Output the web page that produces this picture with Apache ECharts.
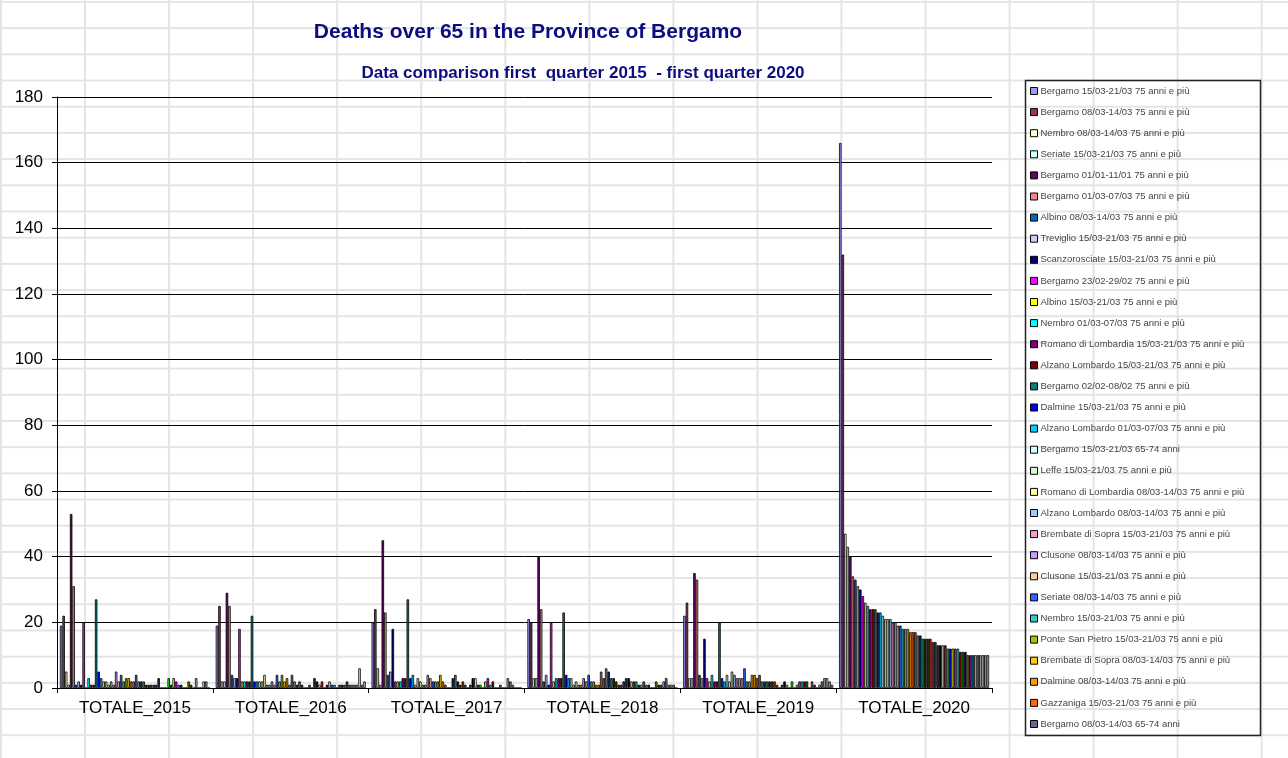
<!DOCTYPE html>
<html>
<head>
<meta charset="utf-8">
<title>Deaths over 65 in the Province of Bergamo</title>
<script src="https://cdn.jsdelivr.net/npm/echarts@6/dist/echarts.min.js"></script>
<style>
  html, body { margin: 0; padding: 0; }
  body {
    width: 1288px; height: 758px; overflow: hidden;
    background-color: #ffffff;
    /* spreadsheet cell grid behind the chart */
    background-image:
      linear-gradient(to right, #e4e4e4 2px, transparent 2px),
      linear-gradient(to bottom, #e4e4e4 2px, transparent 2px);
    background-size: 84.05px 26.2px;
    background-position: 0px 1px;
  }
  #chart { width: 1288px; height: 758px; }
</style>
</head>
<body>
<div id="chart"></div>
<script>
// Category labels on the x axis
const categories = ['TOTALE_2015', 'TOTALE_2016', 'TOTALE_2017', 'TOTALE_2018', 'TOTALE_2019', 'TOTALE_2020'];

// Series names (municipality, week, age band); the legend lists the first 31
const seriesNames = [
  'Bergamo 15/03-21/03 75 anni e più',
  'Bergamo 08/03-14/03 75 anni e più',
  'Nembro 08/03-14/03 75 anni e più',
  'Seriate 15/03-21/03 75 anni e più',
  'Bergamo 01/01-11/01 75 anni e più',
  'Bergamo 01/03-07/03 75 anni e più',
  'Albino 08/03-14/03 75 anni e più',
  'Treviglio 15/03-21/03 75 anni e più',
  'Scanzorosciate 15/03-21/03 75 anni e più',
  'Bergamo 23/02-29/02 75 anni e più',
  'Albino 15/03-21/03 75 anni e più',
  'Nembro 01/03-07/03 75 anni e più',
  'Romano di Lombardia 15/03-21/03 75 anni e più',
  'Alzano Lombardo 15/03-21/03 75 anni e più',
  'Bergamo 02/02-08/02 75 anni e più',
  'Dalmine 15/03-21/03 75 anni e più',
  'Alzano Lombardo 01/03-07/03 75 anni e più',
  'Bergamo 15/03-21/03 65-74 anni',
  'Leffe 15/03-21/03 75 anni e più',
  'Romano di Lombardia 08/03-14/03 75 anni e più',
  'Alzano Lombardo 08/03-14/03 75 anni e più',
  'Brembate di Sopra 15/03-21/03 75 anni e più',
  'Clusone 08/03-14/03 75 anni e più',
  'Clusone 15/03-21/03 75 anni e più',
  'Seriate 08/03-14/03 75 anni e più',
  'Nembro 15/03-21/03 75 anni e più',
  'Ponte San Pietro 15/03-21/03 75 anni e più',
  'Brembate di Sopra 08/03-14/03 75 anni e più',
  'Dalmine 08/03-14/03 75 anni e più',
  'Gazzaniga 15/03-21/03 75 anni e più',
  'Bergamo 08/03-14/03 65-74 anni'
];
const SERIES_COUNT = 60;

// Deaths per series, one array per year (series order as above)
const deaths2015 = [19,22,5,1,53,31,1,2,1,20, 0,3,1,1,27,5,3,2,2,1, 2,1,5,2,4,2,3,3,2,2, 4,2,2,2,1,1,1,1,1,3, 0,0,0,3,1,3,2,1,1,0, 0,2,1,0,3,0,0,2,2,0];
const deaths2016 = [19,25,2,2,29,25,4,3,3,18, 2,2,2,2,22,2,2,2,2,4, 1,1,2,1,4,2,4,2,3,1, 4,2,1,2,1,0,0,1,0,3, 2,1,2,0,1,2,1,1,0,1, 1,1,2,1,1,1,1,6,1,2];
const deaths2017 = [20,24,6,1,45,23,4,5,18,2, 2,2,3,3,27,3,4,1,3,2, 1,1,4,3,2,2,2,4,2,1, 0,0,3,4,2,1,2,1,0,1, 3,3,1,1,0,2,3,1,2,0, 0,1,0,0,3,2,1,0,0,0];
const deaths2018 = [21,20,3,3,40,24,2,4,1,20, 2,3,3,3,23,4,3,3,1,2, 1,1,3,2,4,2,2,1,1,5, 3,6,5,3,3,2,1,1,2,3, 3,2,2,2,1,1,2,1,1,0, 0,2,1,1,2,3,1,1,1,0];
const deaths2019 = [22,26,3,3,35,33,4,3,15,3, 2,4,2,2,20,3,2,4,2,5, 4,3,3,3,6,2,2,4,4,3, 4,2,2,2,2,2,2,1,0,1, 2,1,0,2,0,1,2,2,2,2, 0,2,1,0,1,2,3,3,2,1];
const deaths2020 = [166,132,47,43,40,34,33,31,30,28, 26,25,24,24,24,23,23,22,21,21, 21,20,20,19,19,18,18,18,17,17, 17,16,16,15,15,15,15,14,14,13, 13,13,13,12,12,12,12,12,11,11, 11,10,10,10,10,10,10,10,10,10];

// Y axis range and step
const yMin = 0, yMax = 180, yStep = 20;

const years = [deaths2015, deaths2016, deaths2017, deaths2018, deaths2019, deaths2020];

// Classic spreadsheet series palette
const palette = [
  '#9999FF','#993366','#FFFFCC','#CCFFFF','#660066','#FF8080','#0066CC','#CCCCFF',
  '#000080','#FF00FF','#FFFF00','#00FFFF','#800080','#800000','#008080','#0000FF',
  '#00CCFF','#CCFFFF','#CCFFCC','#FFFF99','#99CCFF','#FF99CC','#CC99FF','#FFCC99',
  '#3366FF','#33CCCC','#99CC00','#FFCC00','#FF9900','#FF6600','#666699','#969696',
  '#003366','#339966','#003300','#333300','#993300','#993366','#333399','#333333',
  '#000000','#FFFFFF','#FF0000','#00FF00','#0000FF','#FFFF00','#FF00FF','#00FFFF',
  '#800000','#008000','#000080','#808000','#800080','#008080','#C0C0C0','#808080',
  '#B8B8C8','#E6E6E6','#A6A6A6','#D8C4C8'
];

const FONT = '"Liberation Sans", Arial, sans-serif';

const series = [];
for (let i = 0; i < SERIES_COUNT; i++) {
  series.push({
    type: 'bar',
    name: i < seriesNames.length ? seriesNames[i] : 'Serie ' + (i + 1),
    data: years.map(function (y) { return y[i]; }),
    barGap: '0%',
    barCategoryGap: '3.7%',
    itemStyle: { color: palette[i], borderColor: '#000', borderWidth: 0.8 },
    silent: true
  });
}

const chart = echarts.init(document.getElementById('chart'), null, { renderer: 'canvas' });
chart.setOption({
  animation: false,
  backgroundColor: 'transparent',
  textStyle: { fontFamily: FONT },
  grid: { left: 57, right: 296, top: 97, bottom: 70, containLabel: false },
  xAxis: {
    type: 'category',
    data: categories,
    axisLine: { show: true, lineStyle: { color: '#000', width: 1 } },
    axisTick: { show: true, alignWithLabel: false, length: 5, lineStyle: { color: '#000' } },
    axisLabel: { color: '#000', fontSize: 17, fontFamily: FONT, margin: 12 },
    splitLine: { show: false }
  },
  yAxis: {
    type: 'value',
    min: yMin, max: yMax, interval: yStep,
    axisLine: { show: true, lineStyle: { color: '#000', width: 1 } },
    axisTick: { show: true, length: 5, lineStyle: { color: '#000' } },
    axisLabel: { color: '#000', fontSize: 17, fontFamily: FONT, margin: 14 },
    splitLine: { show: true, lineStyle: { color: '#000', width: 1 } }
  },
  legend: {
    data: seriesNames,
    orient: 'vertical',
    left: 1030,
    top: 85,
    padding: 0,
    icon: 'rect',
    itemWidth: 7,
    itemHeight: 7,
    itemGap: 9.1,
    selectedMode: false,
    itemStyle: { borderColor: '#000', borderWidth: 1 },
    textStyle: { color: '#444', fontSize: 9.5, lineHeight: 12, fontFamily: FONT, padding: [0, 0, 0, -2] }
  },
  graphic: [
    {
      type: 'rect',
      shape: { x: 1025.5, y: 80.5, width: 235, height: 655 },
      style: { fill: 'rgba(255,255,255,0)', stroke: '#222', lineWidth: 1.5 },
      silent: true, z: 100
    },
    {
      type: 'text',
      style: {
        text: 'Deaths over 65 in the Province of Bergamo',
        x: 528, y: 32, textAlign: 'center', textVerticalAlign: 'middle',
        fill: '#0c0c80', font: 'bold 21px ' + FONT
      },
      silent: true
    },
    {
      type: 'text',
      style: {
        text: 'Data comparison first  quarter 2015  - first quarter 2020',
        x: 583, y: 73, textAlign: 'center', textVerticalAlign: 'middle',
        fill: '#0c0c80', font: 'bold 17px ' + FONT
      },
      silent: true
    }
  ],
  series: series
});
</script>
</body>
</html>
